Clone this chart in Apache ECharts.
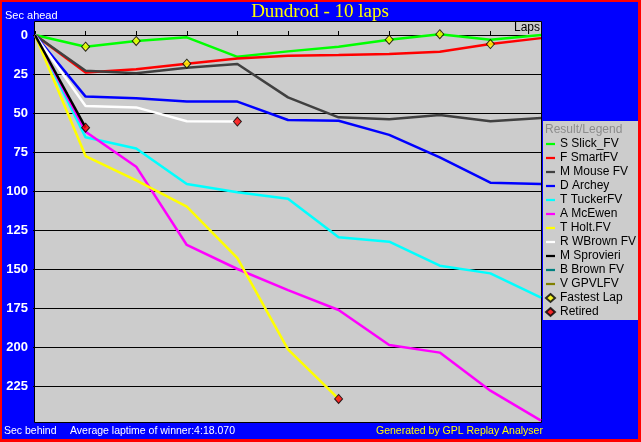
<!DOCTYPE html>
<html>
<head>
<meta charset="utf-8">
<script src="https://cdn.jsdelivr.net/npm/echarts@6/dist/echarts.min.js"></script>
<style>
  html, body { margin: 0; padding: 0; background: #ff0000; }
  #chart { width: 641px; height: 442px; }
</style>
</head>
<body>
<div id="chart"></div>
<script>
  // laps on the x axis, seconds behind leader on the y axis
  const laps = [0, 1, 2, 3, 4, 5, 6, 7, 8, 9, 10];
  const yTicks = [0, 25, 50, 75, 100, 125, 150, 175, 200, 225];

  const drivers = ['S Slick_FV', 'F SmartFV', 'M Mouse FV', 'D Archey', 'T TuckerFV',
    'A McEwen', 'T Holt.FV', 'R WBrown FV', 'M Sprovieri', 'B Brown FV', 'V GPVLFV'];
  const colors = ['#00ff00', '#ff0000', '#404040', '#0000ff', '#00ffff',
    '#ff00ff', '#ffff00', '#ffffff', '#000000', '#008080', '#808000'];

  const slick = [0, 7.5, 3.8, 1.5, 14, 10.5, 7.5, 3, -0.5, 3, 0];
  const smart = [0, 24, 22, 18.4, 15, 13.3, 12.8, 12.2, 10.7, 5.8, 2];
  const mouse = [0, 22.9, 24.5, 21, 18.6, 40, 52.8, 54, 51.3, 55.3, 53.2];
  const archey = [0, 39.5, 40.6, 42.7, 42.7, 54.5, 55, 64, 78.4, 94.7, 95.5];
  const tucker = [0, 65.6, 72.7, 95.5, 100.8, 105, 129.7, 132.5, 147.9, 152.8, 168.4];
  const mcewen = [0, 62, 84.4, 134.6, 150, 163.5, 176.3, 198.7, 203.6, 228, 247.2];
  const holt = [0, 77.6, 93.2, 110, 143, 201.5, 233.3];
  const wbrown = [0, 45.5, 46.4, 55.3, 55.5];
  const sprovieri = [0, 59.4];
  const brown = [];
  const gpvl = [];

  const lapData = [slick, smart, mouse, archey, tucker, mcewen, holt, wbrown, sprovieri, brown, gpvl];

  // [lap, seconds]
  const fastestLaps = [[1, 7.5], [2, 3.8], [3, 18.4], [7, 3], [8, -0.5], [9, 5.8]];
  const retired = [[1, 59.4], [4, 55.5], [6, 233.3]];

  const chart = echarts.init(document.getElementById('chart'), null, {renderer: 'canvas'});

  let series = drivers.map((name, i) => ({
    name: name,
    type: 'line',
    data: lapData[i].map((v, k) => [laps[k], v]),
    symbol: 'none',
    clip: false,
    color: colors[i],
    lineStyle: {width: 2.5, color: colors[i]},
    z: 3 + i
  }));

  series.push({
    name: 'Fastest Lap',
    type: 'scatter',
    data: fastestLaps,
    symbol: 'diamond',
    symbolSize: [8, 9],
    clip: false,
    itemStyle: {color: '#ffff00', borderColor: '#000000', borderWidth: 1},
    z: 20
  });
  series.push({
    name: 'Retired',
    type: 'scatter',
    data: retired,
    symbol: 'diamond',
    symbolSize: [8, 9],
    clip: false,
    itemStyle: {color: '#ff0000', borderColor: '#000000', borderWidth: 1},
    z: 20
  });

  // short flat bar as the line icon
  const lineIcon = 'path://M0,0L12,0L12,3L0,3Z';
  let legendData = drivers.map(d => ({name: d, icon: lineIcon}));
  legendData.push({name: 'Fastest Lap', icon: 'diamond'});
  legendData.push({name: 'Retired', icon: 'diamond'});

  const option = {
    animation: false,
    backgroundColor: '#ff0000',
    grid: {left: 35, top: 35, right: 100, bottom: 19.5, containLabel: false},
    xAxis: {
      type: 'value',
      position: 'top',
      min: 0,
      max: 10,
      interval: 1,
      axisLine: {onZero: false, lineStyle: {color: '#000', width: 1}},
      axisTick: {length: 4, lineStyle: {color: '#000'}},
      axisLabel: {show: false},
      splitLine: {show: false}
    },
    yAxis: {
      type: 'value',
      inverse: true,
      min: 0,
      max: 248.4,
      interval: 25,
      axisLine: {show: false},
      axisTick: {show: true, length: 2, lineStyle: {color: '#000'}},
      axisLabel: {
        color: '#ffffff',
        fontFamily: 'Liberation Sans',
        fontWeight: 'bold',
        fontSize: 13,
        margin: 7,
        showMaxLabel: false,
        formatter: v => (yTicks.indexOf(v) >= 0 ? String(v) : '')
      },
      splitLine: {show: true, lineStyle: {color: '#000', width: 1}}
    },
    legend: {
      orient: 'vertical',
      left: 545,
      top: 137,
      padding: 0,
      itemWidth: 9,
      itemHeight: 8,
      itemGap: 0,
      selectedMode: false,
      textStyle: {color: '#000', fontFamily: 'Liberation Sans', fontSize: 12, lineHeight: 14},
      data: legendData
    },
    graphic: [
      // blue panel inside the red edge
      {type: 'rect', z: -10, shape: {x: 2, y: 2, width: 636, height: 437}, style: {fill: '#0000ff'}},
      // plot area
      {type: 'rect', z: -5, shape: {x: 34.5, y: 21.5, width: 507, height: 401}, style: {fill: '#cccccc', stroke: '#000', lineWidth: 1}},
      // legend box
      {type: 'rect', z: -5, shape: {x: 543, y: 121, width: 95, height: 199}, style: {fill: '#cccccc'}},
      {type: 'text', z: 1, left: 545, top: 124, style: {text: 'Result/Legend', fill: '#8c8c8c', font: '12px "Liberation Sans"'}},
      {type: 'text', z: 1, x: 320, y: 12, style: {text: 'Dundrod - 10 laps', fill: '#ffff00', font: '19px "Liberation Serif"', textAlign: 'center', textVerticalAlign: 'middle'}},
      {type: 'text', z: 1, left: 5, top: 10, style: {text: 'Sec ahead', fill: '#ffffff', font: '11px "Liberation Sans"'}},
      {type: 'text', z: 1, left: 4, top: 426, style: {text: 'Sec behind', fill: '#ffffff', font: '10.5px "Liberation Sans"'}},
      {type: 'text', z: 1, left: 70, top: 426, style: {text: 'Average laptime of winner:4:18.070', fill: '#ffffff', font: '10.5px "Liberation Sans"'}},
      {type: 'text', z: 1, left: 376, top: 426, style: {text: 'Generated by GPL Replay Analyser', fill: '#ffff00', font: '10.5px "Liberation Sans"'}},
      {type: 'text', z: 1, x: 541, y: 22, style: {text: 'Laps', fill: '#000', font: '12px "Liberation Sans"', textAlign: 'right', backgroundColor: '#cccccc', padding: [0, 1, 0, 2]}}
    ],
    series: series
  };

  chart.setOption(option);
</script>
</body>
</html>
